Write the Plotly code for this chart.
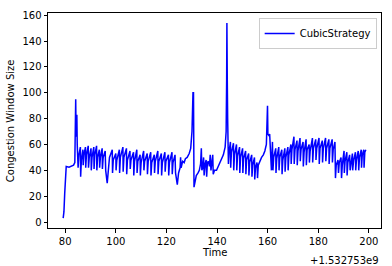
import plotly.graph_objects as go

# time offset from 1.532753e9 (seconds) and congestion window size
time_offset = [
    79.2, 79.5, 79.8, 80.1, 80.4, 81.5, 82.5, 83.3, 83.8, 84.0, 84.15, 84.3, 84.45, 84.6, 84.75, 84.9,
    85.1, 85.4, 86.0, 86.1, 86.4, 87.0, 87.1, 87.4, 88.0, 88.1, 88.4, 89.1, 89.2, 89.5, 90.2, 90.3,
    90.6, 91.3, 91.4, 91.7, 92.4, 92.5, 92.8, 93.5, 93.6, 93.9, 94.6, 94.7, 95.0, 95.8, 96.0, 96.6,
    97.0, 97.5, 98.6, 98.7, 99.0, 100.0, 100.1, 100.4, 101.4, 101.5, 101.8, 102.8, 102.9, 103.2,
    104.2, 104.3, 104.6, 105.6, 105.7, 106.0, 107.0, 107.1, 107.4, 108.3, 108.4, 108.7, 109.6, 109.7,
    110.0, 111.0, 111.1, 111.4, 112.4, 112.5, 112.8, 113.8, 113.9, 114.2, 115.2, 115.3, 115.6, 116.6,
    116.7, 117.0, 118.0, 118.1, 118.4, 119.4, 119.5, 119.8, 120.8, 120.9, 121.2, 122.2, 122.3, 122.6,
    123.4, 123.6, 124.3, 124.8, 125.4, 125.6, 125.8, 126.4, 127.0, 127.5, 128.2, 129.0, 129.6, 130.1,
    130.5, 130.7, 130.9, 131.3, 131.8, 132.5, 133.0, 133.5, 133.8, 134.0, 134.3, 134.7, 134.9, 135.3,
    135.7, 135.9, 136.2, 136.6, 137.0, 137.3, 137.6, 138.0, 138.3, 138.5, 139.0, 139.8, 140.3, 141.0,
    141.8, 142.5, 143.2, 143.6, 143.8, 143.9, 144.05, 144.2, 144.35, 144.5, 144.8, 145.3, 145.4, 145.7,
    146.5, 146.6, 146.9, 147.7, 147.8, 148.1, 148.9, 149.0, 149.3, 150.1, 150.2, 150.5, 151.3, 151.4,
    151.7, 152.5, 152.6, 152.9, 153.7, 153.8, 154.1, 154.8, 154.9, 155.2, 155.8, 156.0, 156.3, 157.0,
    157.6, 158.3, 158.9, 159.5, 159.8, 159.95, 160.1, 160.5, 160.8, 161.0, 161.3, 161.5, 161.9, 162.1,
    162.4, 163.2, 163.3, 163.6, 164.4, 164.5, 164.8, 165.6, 165.7, 166.0, 166.8, 166.9, 167.2, 168.0,
    168.1, 168.4, 169.2, 169.3, 169.6, 170.4, 170.5, 170.8, 171.6, 171.7, 172.0, 172.8, 172.9, 173.2,
    174.0, 174.1, 174.4, 175.2, 175.3, 175.6, 176.4, 176.5, 176.8, 177.7, 177.8, 178.1, 179.0, 179.1,
    179.4, 180.3, 180.4, 180.7, 181.6, 181.7, 182.0, 182.9, 183.0, 183.3, 184.2, 184.3, 184.6, 185.5,
    185.6, 185.9, 186.6, 186.8, 187.1, 187.8, 188.0, 188.3, 189.0, 189.2, 189.5, 190.2, 190.3, 190.6,
    191.3, 191.4, 191.7, 192.4, 192.6, 192.9, 193.5, 193.6, 194.0, 194.7, 194.8, 195.1, 195.8, 196.0,
    196.3, 197.0, 197.1, 197.4, 198.0, 198.1, 198.4, 198.8,
]
cwnd = [
    3, 8, 22, 33, 43, 42.5, 43, 44, 46, 62, 95, 66, 82, 83, 60, 44,
    42, 52, 58, 35, 48, 56, 44, 52, 58, 42, 52, 59, 42, 50, 57, 40,
    50, 58, 41, 52, 59, 40, 50, 56, 42, 50, 57, 41, 50, 55, 40, 30,
    42, 50, 56, 38, 48, 53, 40, 48, 56, 38, 50, 58, 39, 50,
    57, 37, 48, 55, 41, 48, 54, 36, 47, 56, 38, 47, 52, 36,
    46, 55, 40, 47, 53, 37, 47, 54, 36, 46, 52, 38, 47, 55,
    37, 47, 53, 36, 46, 54, 39, 47, 52, 36, 46, 54, 37, 46,
    52, 38, 29, 38, 42, 50, 42, 47, 46, 49, 50, 53, 57, 70,
    100, 100, 27, 33, 36, 38, 40, 45, 57, 40, 42, 50, 36, 45,
    48, 35, 46, 47, 43, 52, 40, 47, 52, 37, 40, 40, 42, 45,
    48, 52, 58, 70, 110, 154, 110, 80, 62, 45, 55, 62, 42, 54,
    61, 40, 52, 60, 40, 51, 58, 38, 50, 57, 38, 49, 55, 37,
    48, 53, 36, 46, 52, 35, 44, 50, 33, 42, 46, 34, 44, 48,
    50, 52, 55, 60, 75, 90, 68, 67, 68, 60, 58, 40, 62, 40,
    50, 57, 38, 49, 58, 40, 50, 56, 37, 48, 57, 39, 50, 58,
    40, 52, 60, 45, 56, 66, 45, 56, 63, 44, 55, 65, 47, 56,
    62, 43, 54, 64, 44, 56, 60, 46, 55, 65, 46, 57, 64, 48,
    57, 65, 45, 57, 63, 46, 57, 65, 47, 57, 64, 45, 57, 64,
    46, 56, 62, 34, 44, 48, 38, 46, 50, 34, 44, 55, 38, 47,
    54, 36, 46, 52, 40, 46, 53, 40, 48, 54, 40, 48, 55, 40,
    50, 56, 42, 52, 56, 42, 54, 56,
]
x_ticks = [80, 100, 120, 140, 160, 180, 200]
y_ticks = [0, 20, 40, 60, 80, 100, 120, 140, 160]

fig = go.Figure()
fig.add_trace(go.Scatter(x=time_offset, y=cwnd, mode="lines", name="CubicStrategy",
                         line=dict(color="#0000ff", width=1.5)))

axis_common = dict(showgrid=False, zeroline=False, showline=True, mirror=True,
                   linecolor="black", linewidth=1, ticks="outside", ticklen=3.5,
                   tickwidth=0.8, tickcolor="black",
                   tickfont=dict(family="DejaVu Sans", size=10, color="black"))

fig.update_layout(
    width=392, height=266,
    margin=dict(l=48, r=10, t=10, b=38),
    paper_bgcolor="white", plot_bgcolor="white",
    font=dict(family="DejaVu Sans", size=10, color="black"),
    xaxis=dict(range=[73.2, 204.8], tickvals=x_ticks, **axis_common),
    yaxis=dict(range=[-4.6, 161.7], tickvals=y_ticks, **axis_common),
    showlegend=True,
    legend=dict(x=0.987, y=0.977, xanchor="right", yanchor="top",
                bgcolor="rgba(255,255,255,0.8)", bordercolor="#cccccc", borderwidth=1,
                font=dict(family="DejaVu Sans", size=10, color="black")),
    annotations=[
        dict(text="Time", xref="paper", yref="paper", x=0.5, y=-0.113,
             xanchor="center", yanchor="middle", showarrow=False,
             font=dict(family="DejaVu Sans", size=10)),
        dict(text="+1.532753e9", xref="paper", yref="paper", x=1.0, y=-0.151,
             xanchor="right", yanchor="middle", showarrow=False,
             font=dict(family="DejaVu Sans", size=10)),
        dict(text="Congestion Window Size", xref="paper", yref="paper", x=-0.112, y=0.5,
             xanchor="center", yanchor="middle", showarrow=False, textangle=-90,
             font=dict(family="DejaVu Sans", size=10)),
    ],
)

fig.write_html("out.html")
